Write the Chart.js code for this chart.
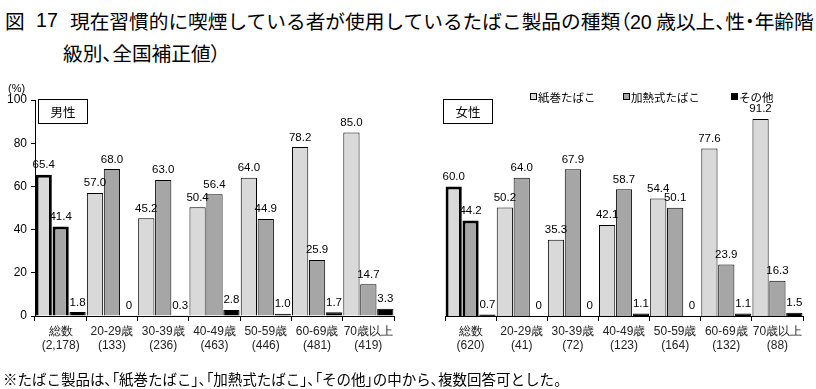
<!DOCTYPE html>
<html lang="ja">
<head>
<meta charset="utf-8">
<script src="https://cdn.jsdelivr.net/npm/chart.js@4"></script>
<style>
  body { margin: 0; background: #fff; }
  #wrap { position: relative; width: 816px; height: 389px; overflow: hidden; font-family: "Noto Sans CJK JP", sans-serif; color: #000; }
  canvas { position: absolute; left: 0; top: 0; }
  .abs { position: absolute; white-space: nowrap; }
  .title { font-size: 19.7px; line-height: 1; }
  .p { font-feature-settings: "palt"; }
  .box { position: absolute; border: 1px solid #000; background: #fff; font-size: 12.5px; text-align: center; box-sizing: border-box; }
  .legend { position: absolute; top: 89px; font-size: 11.5px; white-space: nowrap; }
  .legend i { display: inline-block; width: 5px; height: 5px; border: 1px solid #000; margin-right: 1px; vertical-align: 2px; }
</style>
</head>
<body>
<div id="wrap">
  <div class="abs title" style="left:5px;top:11px">図</div>
  <div class="abs title" style="left:36px;top:11px;font-family:'Liberation Sans'">17</div>
  <div class="abs title" style="left:70px;top:11px">現在習慣的に喫煙している者が使用しているたばこ製品の種類<span class="p">（</span><span style="font-family:'Liberation Sans'">20</span> 歳以上<span class="p">、</span>性<span class="p">・</span>年齢階</div>
  <div class="abs title" style="left:63px;top:43px">級別<span class="p">、</span>全国補正値<span class="p">）</span></div>

  <canvas id="menChart" width="816" height="389"></canvas>
  <canvas id="womenChart" width="816" height="389"></canvas>

  <div class="abs" style="left:8px;top:82px;font-size:11px;font-family:'Liberation Sans'">(%)</div>
  <div class="box" style="left:38px;top:99px;width:50px;height:25px;line-height:23px">男性</div>
  <div class="box" style="left:443px;top:99px;width:50px;height:25px;line-height:23px">女性</div>

  <div class="legend" style="left:530px"><i style="background:#d9d9d9"></i>紙巻たばこ</div>
  <div class="legend" style="left:623px"><i style="background:#a6a6a6"></i>加熱式たばこ</div>
  <div class="legend" style="left:731px"><i style="background:#000"></i>その他</div>

  <div class="abs" style="left:3px;top:368px;font-size:14.5px">※たばこ製品は<span class="p">、「</span>紙巻たばこ<span class="p">」、「</span>加熱式たばこ<span class="p">」、「</span>その他<span class="p">」</span>の中から<span class="p">、</span>複数回答可とした<span class="p">。</span></div>
</div>

<script>
// categories
const ageGroups = ['総数', '20-29歳', '30-39歳', '40-49歳', '50-59歳', '60-69歳', '70歳以上'];
const menCounts = ['(2,178)', '(133)', '(236)', '(463)', '(446)', '(481)', '(419)'];
const womenCounts = ['(620)', '(41)', '(72)', '(123)', '(164)', '(132)', '(88)'];
const seriesNames = ['紙巻たばこ', '加熱式たばこ', 'その他'];

// values (%)
const menCigarette = [65.4, 57.0, 45.2, 50.4, 64.0, 78.2, 85.0];
const menHeated = [41.4, 68.0, 63.0, 56.4, 44.9, 25.9, 14.7];
const menOther = [1.8, 0, 0.3, 2.8, 1.0, 1.7, 3.3];
const womenCigarette = [60.0, 50.2, 35.3, 42.1, 54.4, 77.6, 91.2];
const womenHeated = [44.2, 64.0, 67.9, 58.7, 50.1, 23.9, 16.3];
const womenOther = [0.7, 0, 0, 1.1, 0, 1.1, 1.5];

const yTicks = [0, 20, 40, 60, 80, 100];

const fillColors = ['#d9d9d9', '#a6a6a6', '#000000'];
const numFont = "'Liberation Sans', Arial, sans-serif";

// value labels above each bar
const valueLabels = {
    id: 'valueLabels',
    afterDatasetsDraw(chart) {
        const ctx = chart.ctx;
        ctx.save();
        ctx.font = '11.5px ' + numFont;
        ctx.fillStyle = '#000';
        ctx.textAlign = 'center';
        ctx.textBaseline = 'bottom';
        chart.data.datasets.forEach((ds, i) => {
            chart.getDatasetMeta(i).data.forEach((bar, j) => {
                const v = ds.data[j];
                ctx.fillText(v === 0 ? '0' : v.toFixed(1), bar.x, bar.y - 4);
            });
        });
        ctx.restore();
    }
};

function makeDatasets(values) {
    return values.map((vals, i) => ({
        label: seriesNames[i],
        data: vals,
        backgroundColor: fillColors[i],
        borderColor: '#000',
        borderWidth: (c) => (c.dataIndex === 0 && i < 2 ? 3 : 1),
        categoryPercentage: 0.99,
        barPercentage: 0.96
    }));
}

function makeChart(canvasId, counts, values, area, showY) {
    const labels = ageGroups.map((g, i) => [g, counts[i]]);
    return new Chart(document.getElementById(canvasId), {
        type: 'bar',
        data: { labels: labels, datasets: makeDatasets(values) },
        plugins: [valueLabels],
        options: {
            responsive: false,
            animation: false,
            devicePixelRatio: 1,
            layout: {
                padding: { left: area.left - (showY ? 35 : 0), right: 816 - area.right, top: 100, bottom: 389 - 316 - 50 }
            },
            plugins: { legend: { display: false }, tooltip: { enabled: false } },
            scales: {
                x: {
                    afterFit: (s) => { s.height = 50; },
                    grid: { display: true, drawOnChartArea: false, color: '#000', tickLength: 5, offset: true },
                    border: { display: true, color: '#000', width: 1 },
                    ticks: { color: '#222', font: { size: 12, family: numFont }, padding: 3, maxRotation: 0, autoSkip: false }
                },
                y: {
                    display: showY,
                    min: 0,
                    max: 100,
                    afterFit: (s) => { s.width = showY ? 35 : 0; },
                    afterBuildTicks: (s) => { s.ticks = yTicks.map(v => ({ value: v })); },
                    grid: { display: true, drawOnChartArea: false, color: '#000', tickLength: 4 },
                    border: { display: true, color: '#000', width: 1 },
                    ticks: { color: '#000', font: { size: 12, family: numFont }, padding: 4 }
                }
            }
        }
    });
}

makeChart('menChart', menCounts, [menCigarette, menHeated, menOther], { left: 35, right: 394 }, true);
makeChart('womenChart', womenCounts, [womenCigarette, womenHeated, womenOther], { left: 445, right: 803 }, false);
</script>
</body>
</html>
